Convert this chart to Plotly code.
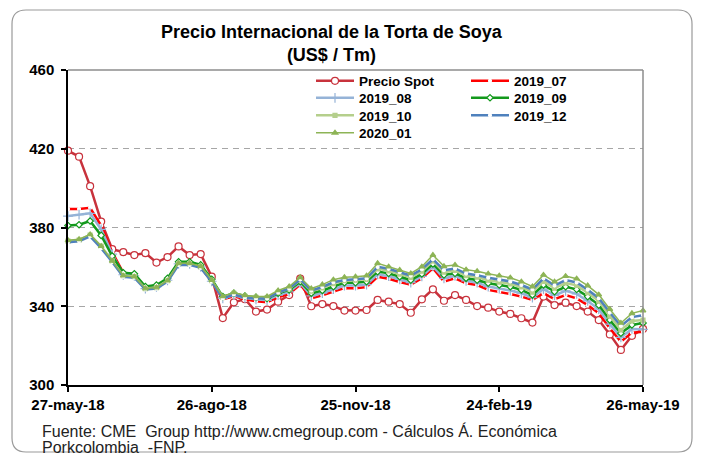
import pandas as pd
import plotly.graph_objects as go

# ---------------- data ----------------
dates = pd.date_range("2018-05-27", periods=53, freq="7D")

spot = [419.0, 416.0, 401.0, 383.0, 369.0, 367.5, 366.0, 367.0, 362.2, 365.0,
        370.4, 366.0, 366.5, 355.0, 334.0, 342.0, 343.6, 337.3, 338.3, 342.3,
        345.7, 354.0, 340.0, 341.1, 340.1, 337.8, 337.8, 338.1, 343.2, 342.3,
        341.1, 336.7, 343.5, 348.6, 342.8, 345.7, 343.2, 340.1, 339.3, 337.3,
        336.1, 333.9, 331.7, 344.9, 340.6, 341.8, 340.1, 337.3, 333.0, 325.7,
        317.8, 325.0, 328.5]

f2019_07 = [389.4, 389.4, 390.0, 381.0, 367.5, 357.0, 356.0, 349.5, 350.0, 353.5,
            362.0, 362.0, 360.0, 352.5, 343.5, 345.0, 343.5, 342.5, 342.0, 344.6,
            346.3, 351.0, 344.0, 345.5, 347.5, 349.2, 349.2, 349.7, 355.0, 354.0,
            352.3, 351.0, 354.2, 359.3, 352.5, 354.2, 351.7, 350.8, 348.3, 347.4,
            346.2, 344.9, 343.2, 346.6, 343.6, 345.7, 344.0, 340.6, 336.4, 328.8,
            322.0, 326.6, 327.0]

f2019_08 = [385.8, 386.5, 387.2, 379.0, 366.5, 356.0, 355.5, 349.0, 349.8, 353.2,
            361.5, 361.5, 360.0, 352.7, 344.0, 345.6, 344.2, 343.5, 343.0, 345.6,
            347.3, 351.7, 345.3, 346.7, 348.7, 350.5, 350.5, 351.0, 356.2, 355.3,
            353.6, 352.0, 355.2, 360.3, 354.2, 355.4, 352.9, 352.0, 350.0, 349.0,
            348.0, 346.6, 344.4, 348.7, 345.5, 347.8, 346.3, 342.7, 338.5, 330.9,
            324.2, 328.5, 328.3]

f2019_09 = [381.0, 381.4, 383.3, 376.0, 365.5, 357.0, 356.5, 350.0, 350.8, 354.2,
            362.6, 362.6, 361.0, 353.7, 344.9, 346.6, 345.2, 344.5, 344.0, 346.6,
            348.3, 352.5, 346.6, 348.0, 350.0, 352.0, 352.0, 352.5, 357.6, 356.7,
            355.0, 353.3, 356.4, 361.5, 355.9, 356.7, 354.2, 353.3, 351.7, 350.8,
            349.9, 348.3, 345.7, 350.8, 347.4, 349.9, 348.6, 344.9, 340.6, 333.0,
            326.3, 330.5, 331.5]

f2019_10 = [373.1, 373.6, 376.2, 370.5, 363.0, 355.5, 355.0, 349.0, 349.5, 353.0,
            361.5, 361.5, 360.0, 353.0, 344.5, 346.5, 345.0, 344.5, 344.3, 347.0,
            348.8, 353.3, 347.7, 349.3, 351.5, 353.0, 353.2, 353.7, 359.0, 358.0,
            356.3, 354.6, 357.8, 363.0, 357.3, 358.2, 355.6, 354.8, 353.2, 352.3,
            351.4, 349.8, 347.2, 352.6, 349.2, 351.8, 350.6, 346.9, 342.6, 335.0,
            328.0, 332.5, 333.0]

f2019_12 = [372.5, 373.0, 375.5, 369.5, 362.5, 355.0, 354.5, 348.5, 349.0, 352.5,
            361.0, 361.0, 359.5, 352.5, 344.0, 346.0, 344.5, 344.0, 344.0, 347.0,
            349.0, 353.6, 348.0, 349.8, 352.2, 353.3, 353.7, 354.2, 360.0, 359.0,
            357.3, 355.6, 358.8, 363.9, 358.3, 359.2, 356.6, 355.8, 354.5, 353.5,
            352.6, 350.8, 348.5, 354.2, 350.5, 353.3, 352.1, 348.4, 344.1, 336.8,
            330.0, 334.5, 335.5]

f2020_01 = [373.5, 374.0, 376.5, 370.5, 363.0, 355.5, 355.0, 349.0, 349.5, 353.0,
            361.8, 361.8, 360.3, 353.3, 345.0, 347.0, 345.5, 345.0, 345.0, 348.0,
            350.0, 354.7, 349.0, 351.0, 353.5, 354.7, 355.0, 355.5, 361.8, 360.1,
            358.4, 356.7, 360.1, 366.0, 360.3, 361.0, 358.6, 357.8, 356.5, 355.5,
            354.5, 352.5, 350.0, 355.9, 352.5, 355.3, 354.0, 350.5, 345.9, 338.5,
            331.5, 336.4, 337.8]

tick_dates = ["2018-05-27", "2018-08-26", "2018-11-25", "2019-02-24", "2019-05-26"]
tick_labels = ["27-may-18", "26-ago-18", "25-nov-18", "24-feb-19", "26-may-19"]
y_ticks = [300, 340, 380, 420, 460]

# ---------------- geometry (page pixels; page body has an 8px margin) ----------------
FONT = "Liberation Sans, Arial, sans-serif"
OFF = 8
FIG_W, FIG_H = 702 - OFF, 455 - OFF
L_PX, R_PX, T_PX, B_PX = 68, 643, 70, 385
W, H = R_PX - L_PX, B_PX - T_PX
def px(x): return (x - L_PX) / W
def py(y): return (B_PX - y) / H

fig = go.Figure()

def add(name, y, color, width, symbol, msize, mfill, mline, legend):
    fig.add_trace(go.Scatter(
        x=dates, y=y, name=name, mode="lines+markers",
        line=dict(color=color, width=width),
        marker=dict(symbol=symbol, size=msize, color=mfill,
                    line=dict(color=mline, width=1.2)),
        cliponaxis=False, legend=legend))

add("Precio Spot", spot, "#C8323C", 2.5, "circle", 7, "white", "#C8323C", "legend")
add("2019_07", f2019_07, "#FF0000", 2.5, "circle", 3, "white", "white", "legend2")
add("2019_08", f2019_08, "#95B3D7", 2.5, "cross-thin", 7, "#95B3D7", "#95B3D7", "legend3")
add("2019_09", f2019_09, "#13991C", 2.5, "diamond", 5, "white", "#13991C", "legend4")
add("2019_10", f2019_10, "#B5CF8C", 2.5, "square", 4, "#B5CF8C", "#B5CF8C", "legend5")
add("2019_12", f2019_12, "#4F81BD", 2.5, "circle", 3, "white", "white", "legend6")
add("2020_01", f2020_01, "#8DB456", 1.5, "triangle-up", 5, "#8DB456", "#8DB456", "legend7")

fl, fr, ft, fb = px(12), px(692), py(10), py(452)
rx, ry = 14 / W, 14 / H
frame_path = (f"M{fl+rx},{ft} L{fr-rx},{ft} Q{fr},{ft} {fr},{ft-ry} "
              f"L{fr},{fb+ry} Q{fr},{fb} {fr-rx},{fb} L{fl+rx},{fb} "
              f"Q{fl},{fb} {fl},{fb+ry} L{fl},{ft-ry} Q{fl},{ft} {fl+rx},{ft} Z")

legend_common = dict(yanchor="middle", xanchor="left", bgcolor="rgba(0,0,0,0)",
                     borderwidth=0, itemwidth=38,
                     font=dict(family=FONT, size=13.5, color="black", weight="bold"))
col_x = [px(311), px(466)]
row_y = [py(81), py(98), py(115.5), py(133)]
legend_pos = {
    "legend": (0, 0), "legend2": (1, 0), "legend3": (0, 1), "legend4": (1, 1),
    "legend5": (0, 2), "legend6": (1, 2), "legend7": (0, 3),
}
legends = {k: dict(x=col_x[c], y=row_y[r], **legend_common) for k, (c, r) in legend_pos.items()}

fig.update_layout(
    width=FIG_W, height=FIG_H,
    margin=dict(l=L_PX - OFF, r=702 - R_PX, t=T_PX - OFF, b=455 - B_PX),
    paper_bgcolor="white", plot_bgcolor="white",
    showlegend=True,
    **legends,
    xaxis=dict(
        type="date", range=[dates[0], dates[-1]],
        tickvals=tick_dates, ticktext=tick_labels,
        showgrid=False, zeroline=False,
        showline=True, linecolor="black", linewidth=1.5,
        ticks="outside", ticklen=5, tickwidth=1.5, tickcolor="black",
        tickfont=dict(family=FONT, size=15, color="black", weight="bold"),
        automargin=False,
    ),
    yaxis=dict(
        range=[300, 460], tickvals=y_ticks,
        showgrid=True, gridcolor="#A6A6A6", gridwidth=1, griddash="6px,5px",
        zeroline=False,
        showline=True, linecolor="black", linewidth=1.5,
        ticks="outside", ticklen=5, tickwidth=1.5, tickcolor="black",
        ticklabelstandoff=4,
        tickfont=dict(family=FONT, size=15, color="black", weight="bold"),
        automargin=False,
    ),
    shapes=[
        dict(type="line", xref="paper", yref="paper", x0=0, x1=1, y0=1, y1=1,
             line=dict(color="#8C8C8C", width=1.5)),
        dict(type="line", xref="paper", yref="paper", x0=1, x1=1, y0=0, y1=1,
             line=dict(color="#8C8C8C", width=1.5)),
        dict(type="path", xref="paper", yref="paper", path=frame_path,
             line=dict(color="#9A9A9A", width=1.2), layer="below"),
    ],
    annotations=[
        dict(text="Precio Internacional de la Torta de Soya<br>(US$ / Tm)",
             xref="paper", yref="paper", x=px(332), y=py(43),
             xanchor="center", yanchor="middle", showarrow=False,
             font=dict(family=FONT, size=18, color="black", weight="bold")),
        dict(text="Fuente: CME  Group http://www.cmegroup.com - Cálculos Á. Económica",
             xref="paper", yref="paper", x=px(40), y=py(431),
             xanchor="left", yanchor="middle", align="left", showarrow=False,
             font=dict(family=FONT, size=16, color="#222222")),
        dict(text="Porkcolombia  -FNP.",
             xref="paper", yref="paper", x=px(40), y=py(447),
             xanchor="left", yanchor="middle", align="left", showarrow=False,
             font=dict(family=FONT, size=16, color="#222222")),
    ],
)

fig.write_html("out.html")
